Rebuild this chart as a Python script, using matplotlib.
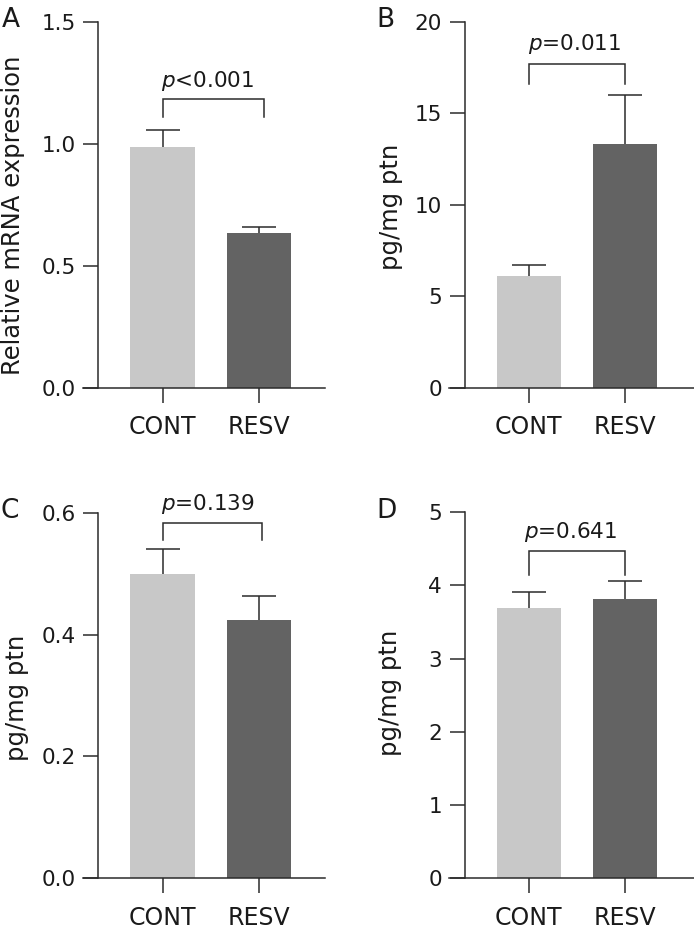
import matplotlib
matplotlib.use("Agg")
import matplotlib.pyplot as plt

plt.rcParams['font.family'] = ['DejaVu Sans']
plt.rcParams['mathtext.fontset'] = 'dejavusans'

categories = ["CONT", "RESV"]
colors = ["#c8c8c8", "#636363"]

# Panel data: means and upper error (SEM)
means_A = [0.988, 0.635]
err_A = [0.068, 0.025]
means_B = [6.10, 13.32]
err_B = [0.60, 2.68]
means_C = [0.500, 0.424]
err_C = [0.041, 0.040]
means_D = [3.685, 3.81]
err_D = [0.227, 0.248]

ylabels = ["Relative mRNA expression", "pg/mg ptn", "pg/mg ptn", "pg/mg ptn"]
yticks_A = [0.0, 0.5, 1.0, 1.5]
yticks_B = [0, 5, 10, 15, 20]
yticks_C = [0.0, 0.2, 0.4, 0.6]
yticks_D = [0, 1, 2, 3, 4, 5]
ptexts = ["$p$<0.001", "$p$=0.011", "$p$=0.139", "$p$=0.641"]
# bracket: (top y, end y)
bracket_A = (1.182, 1.108)
bracket_B = (17.67, 16.58)
bracket_C = (0.5825, 0.5546)
bracket_D = (4.468, 4.14)
bracket_x_A = (0.0, 1.05)
bracket_x_B = (0.0, 1.0)
bracket_x_C = (0.0, 1.03)
bracket_x_D = (0.0, 1.0)
ptext_pos_A = (0.47, 1.234)
ptext_pos_B = (0.475, 18.45)
ptext_pos_C = (0.47, 0.604)
ptext_pos_D = (0.44, 4.65)

W, H = 694, 930
fig = plt.figure(figsize=(W / 100, H / 100), dpi=100)
LC = "#2b2b2b"


def px_axes(left, top, right, bottom):
    return fig.add_axes([left / W, 1 - bottom / H, (right - left) / W, (bottom - top) / H])


panels = [
    dict(rect=(83, 21.7, 325, 387.7), means=means_A, err=err_A, yt=yticks_A, fmt="{:.1f}",
         ylim=(0, 1.5), br=bracket_A, bx=bracket_x_A, pt=ptexts[0], pp=ptext_pos_A,
         xr=1.686, yl=ylabels[0], ylpos=(13, 215), letter="A", lpos=(2, 27)),
    dict(rect=(449.3, 21.7, 694, 387.7), means=means_B, err=err_B, yt=yticks_B, fmt="{:d}",
         ylim=(0, 20), br=bracket_B, bx=bracket_x_B, pt=ptexts[1], pp=ptext_pos_B,
         xr=1.717, yl=ylabels[1], ylpos=(391, 207), letter="B", lpos=(376, 27)),
    dict(rect=(83, 512.7, 325, 878.3), means=means_C, err=err_C, yt=yticks_C, fmt="{:.1f}",
         ylim=(0, 0.6), br=bracket_C, bx=bracket_x_C, pt=ptexts[2], pp=ptext_pos_C,
         xr=1.686, yl=ylabels[2], ylpos=(16.7, 697.5), letter="C", lpos=(1, 518)),
    dict(rect=(449.3, 512, 694, 878.3), means=means_D, err=err_D, yt=yticks_D, fmt="{:d}",
         ylim=(0, 5), br=bracket_D, bx=bracket_x_D, pt=ptexts[3], pp=ptext_pos_D,
         xr=1.717, yl=ylabels[3], ylpos=(390, 693), letter="D", lpos=(376, 518)),
]

x = [0, 1]
for p in panels:
    ax = px_axes(*p["rect"])
    ax.bar(x, p["means"], width=0.667, color=colors, edgecolor="none", zorder=2)
    eb = ax.errorbar(x, p["means"], yerr=[[0, 0], p["err"]], fmt="none", ecolor=LC,
                     elinewidth=1.1, capsize=12.2, capthick=1.1, zorder=1)
    caps = eb.lines[1]
    if len(caps) == 2:
        caps[0].set_visible(False)
    ax.set_xlim(-0.825, p["xr"])
    ax.set_ylim(*p["ylim"])
    for s in ["top", "right"]:
        ax.spines[s].set_visible(False)
    ax.spines["left"].set_position(("data", -0.665))
    ax.spines["left"].set_bounds(*p["ylim"])
    for s in ["left", "bottom"]:
        ax.spines[s].set_color(LC)
        ax.spines[s].set_linewidth(1.1)
    ax.set_yticks(p["yt"])
    ax.set_yticklabels([p["fmt"].format(v) for v in p["yt"]])
    ax.set_xticks(x)
    ax.set_xticklabels(categories)
    ax.tick_params(axis="y", direction="out", length=10.8, width=1.1, color=LC,
                   labelsize=15.5, pad=5.5, labelcolor="#1a1a1a")
    ax.tick_params(axis="x", direction="out", length=11, width=1.1, color=LC,
                   labelsize=17, pad=9, labelcolor="#1a1a1a")
    ax.patch.set_visible(False)
    ytop, yend = p["br"]
    x0, x1 = p["bx"]
    ax.plot([x0, x0, x1, x1], [yend, ytop, ytop, yend], color=LC, lw=1.1,
            clip_on=False, solid_joinstyle="miter")
    ax.text(p["pp"][0], p["pp"][1], p["pt"], ha="center", va="baseline",
            fontsize=15.5, color="#1a1a1a", clip_on=False)
    fig.text(p["ylpos"][0] / W, 1 - p["ylpos"][1] / H, p["yl"], rotation=90,
             ha="center", va="center", fontsize=17.5, color="#1a1a1a")
    fig.text(p["lpos"][0] / W, 1 - p["lpos"][1] / H, p["letter"], ha="left",
             va="baseline", fontsize=19, color="#1a1a1a")

fig.savefig("out.png", dpi=100)
